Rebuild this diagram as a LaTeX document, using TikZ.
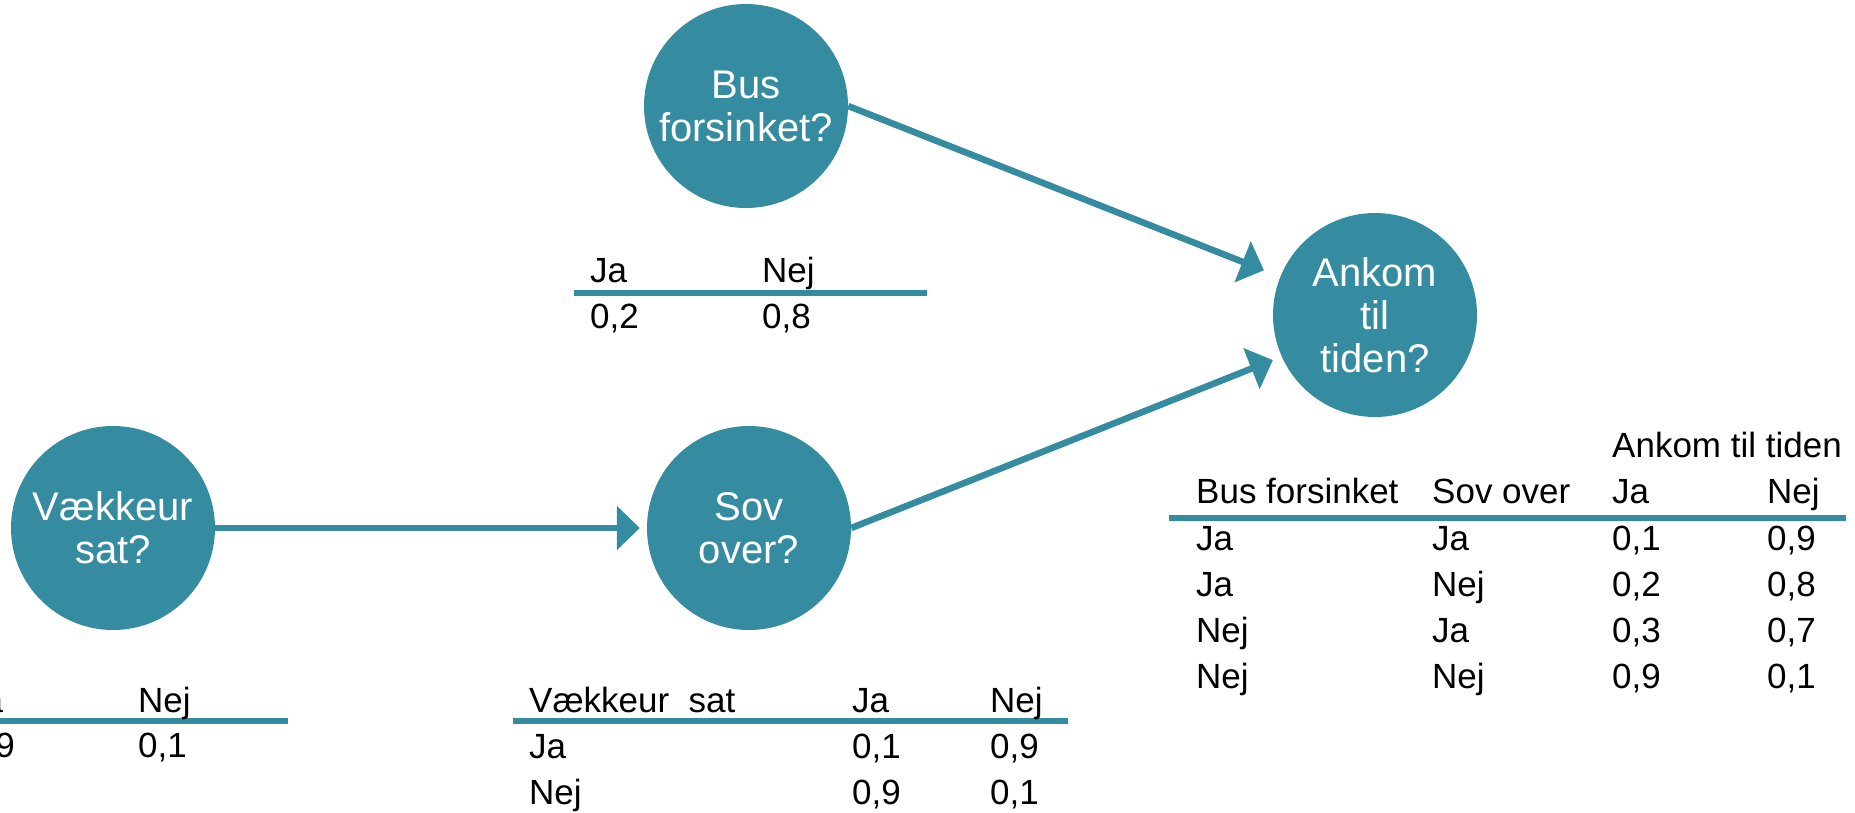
\documentclass[tikz,border=0pt]{standalone}
\usepackage{fontspec}
\setmainfont{Liberation Sans}
\usetikzlibrary{arrows.meta}
\definecolor{tealc}{RGB}{53,139,160}
\begin{document}
\begin{tikzpicture}[x=1pt,y=-1pt,
  bubble/.style={circle,fill=tealc,minimum size=204pt,inner sep=0pt,text=white,align=center,font=\fontsize{40}{43}\selectfont},
  cell/.style={anchor=base west,inner sep=0pt,font=\fontsize{35}{40}\selectfont},
  rulebar/.style={draw=tealc,line width=6pt},
  link/.style={draw=tealc,line width=6.5pt,-{Triangle[length=23pt,width=43pt]}}]
\useasboundingbox (0,0) rectangle (1855,812);

% circles
\node[bubble] (bus) at (746,106) {Bus\\forsinket?};
\node[bubble] (ank) at (1375,315) {Ankom\\til\\tiden?};
\node[bubble] (sov) at (749,528) {Sov\\over?};
\node[bubble] (vk) at (113,528) {Vækkeur\\sat?};

% connectors
\draw[link,shorten >=17.5pt] (bus.east) -- (ank.158);
\draw[link,shorten >=9.5pt] (sov.east) -- (ank.204);
\draw[link,shorten >=7pt] (vk.east) -- (sov.west);

% Bus table
\draw[rulebar] (574,293) -- (927,293);
\node[cell] (bja) at (590,282) {Ja};
\node[cell] (bnej) at (762,282) {Nej};
\node[cell] (bv1) at (590,328) {0,2};
\node[cell] (bv2) at (762,328) {0,8};

% Vaekkeur table
\draw[rulebar] (-40,721) -- (288,721);
\node[cell] (vja) at (-34,712) {Ja};
\node[cell] (vnej) at (138,712) {Nej};
\node[cell] (vv1) at (-34,757) {0,9};
\node[cell] (vv2) at (138,757) {0,1};

% Sov table
\draw[rulebar] (513,721) -- (1068,721);
\node[cell] (sh1) at (529,712) {Vækkeur~~sat};
\node[cell] (sh2) at (852,712) {Ja};
\node[cell] (sh3) at (990,712) {Nej};
\node[cell] (sa1) at (529,758) {Ja};
\node[cell] (sa2) at (852,758) {0,1};
\node[cell] (sa3) at (990,758) {0,9};
\node[cell] (sb1) at (529,804) {Nej};
\node[cell] (sb2) at (852,804) {0,9};
\node[cell] (sb3) at (990,804) {0,1};

% Ankom table
\node[cell] (atop) at (1612,457) {Ankom til tiden};
\node[cell] (ah1) at (1196,503) {Bus forsinket};
\node[cell] (ah2) at (1432,503) {Sov over};
\node[cell] (ah3) at (1612,503) {Ja};
\node[cell] (ah4) at (1767,503) {Nej};
\draw[rulebar] (1169,518) -- (1846,518);
\foreach \y/\a/\b/\c/\d [count=\i] in {550/Ja/Ja/{0,1}/{0,9}, 596/Ja/Nej/{0,2}/{0,8}, 642/Nej/Ja/{0,3}/{0,7}, 688/Nej/Nej/{0,9}/{0,1}}{
  \node[cell] (ar\i a) at (1196,\y) {\a};
  \node[cell] (ar\i b) at (1432,\y) {\b};
  \node[cell] (ar\i c) at (1612,\y) {\c};
  \node[cell] (ar\i d) at (1767,\y) {\d};
}
\end{tikzpicture}
\end{document}
